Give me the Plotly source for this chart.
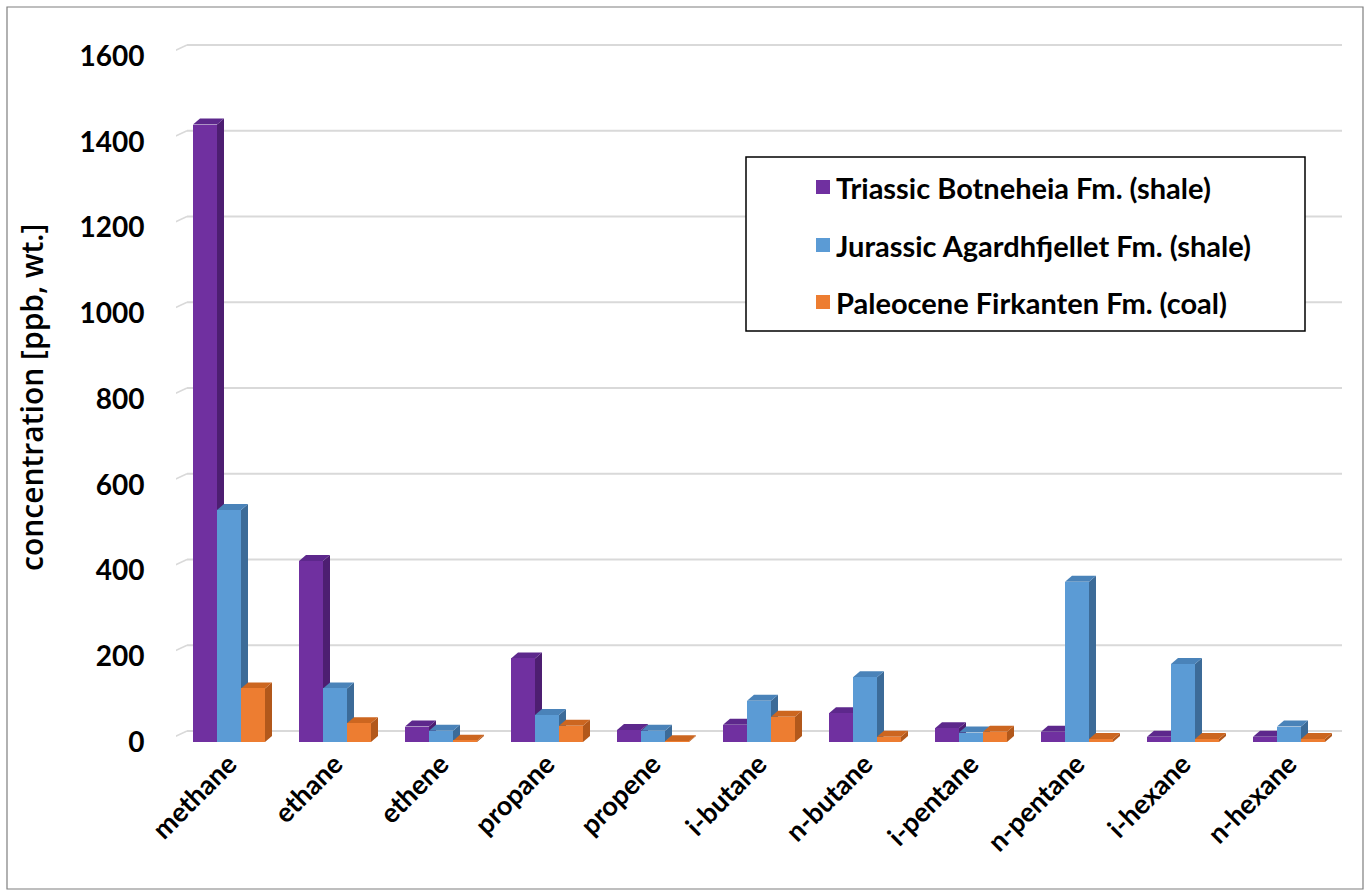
import plotly.graph_objects as go

# --- data -------------------------------------------------------------------
compounds = ["methane", "ethane", "ethene", "propane", "propene", "i-butane",
             "n-butane", "i-pentane", "n-pentane", "i-hexane", "n-hexane"]
triassic_botneheia = [1440, 422, 36, 195, 28, 40, 67, 32, 24, 12, 12]
jurassic_agardhfjellet = [541, 125, 26, 63, 26, 96, 151, 22, 374, 182, 36]
paleocene_firkanten = [125, 44, 3, 38, 2, 59, 12, 24, 7, 7, 7]

series_names = ["Triassic Botneheia Fm. (shale)",
                "Jurassic Agardhfjellet Fm. (shale)",
                "Paleocene Firkanten Fm. (coal)"]
y_ticks = [0, 200, 400, 600, 800, 1000, 1200, 1400, 1600]

# --- styling ----------------------------------------------------------------
front_colors = ["#7030A0", "#5B9BD5", "#ED7D31"]
side_colors = ["#4D1E71", "#3C6B98", "#B2581B"]
top_colors = ["#5D288C", "#4A83B9", "#CC6620"]

W, H = 1370, 896
M_L, M_R, M_T, M_B = 176, 28, 40, 154
plot_w = W - M_L - M_R
plot_h = H - M_T - M_B
n = len(compounds)
x_range = [-0.5, n - 0.5]
px_per_x = plot_w / (x_range[1] - x_range[0])
px_per_y = 0.42875
y_range = [0, plot_h / px_per_y]


def dx(px):
    return px / px_per_x


def dy(px):
    return px / px_per_y


bar_w = dx(24)
offsets = [-bar_w, 0.0, bar_w]
depth_x, depth_y = dx(7), dy(6)
wall_x, wall_y = dx(11), dy(11)

series = [triassic_botneheia, jurassic_agardhfjellet, paleocene_firkanten]

fig = go.Figure()
shapes = []

# back wall gridlines with the short side-wall connectors
grid_col = "#D9D9D9"
for v in y_ticks:
    shapes.append(dict(type="line", xref="x", yref="y", layer="below",
                       x0=x_range[0] + wall_x, x1=x_range[1] + dx(10),
                       y0=v + wall_y, y1=v + wall_y,
                       line=dict(color=grid_col, width=2)))
    shapes.append(dict(type="line", xref="x", yref="y", layer="below",
                       x0=x_range[0] - dx(6), x1=x_range[0] + wall_x,
                       y0=v + dy(3), y1=v + wall_y,
                       line=dict(color=grid_col, width=1.5)))

# floor front edge
shapes.append(dict(type="line", xref="x", yref="y", layer="below",
                   x0=x_range[0], x1=x_range[1] - dx(10), y0=-dy(2), y1=-dy(2),
                   line=dict(color=grid_col, width=3)))

# depth faces (side and top) of every bar, kept beneath the bar fronts
for i in range(n):
    for k, vals in enumerate(series):
        v = vals[i]
        xl = i + offsets[k] - bar_w / 2
        xr = xl + bar_w
        side = (f"M {xr},0 L {xr + depth_x},{depth_y} L {xr + depth_x},{v + depth_y} "
                f"L {xr},{v} Z")
        top = (f"M {xl},{v} L {xr},{v} L {xr + depth_x},{v + depth_y} "
               f"L {xl + depth_x},{v + depth_y} Z")
        shapes.append(dict(type="path", xref="x", yref="y", layer="below", path=side,
                           fillcolor=side_colors[k], line=dict(width=0)))
        shapes.append(dict(type="path", xref="x", yref="y", layer="below", path=top,
                           fillcolor=top_colors[k], line=dict(width=0)))

# bar fronts
for k, vals in enumerate(series):
    fig.add_trace(go.Bar(
        x=[i + offsets[k] for i in range(n)], y=vals, width=bar_w,
        name=series_names[k], marker=dict(color=front_colors[k], line=dict(width=0)),
        showlegend=False))


def px_to_paper_x(px):
    return (px - M_L) / plot_w


def py_to_paper_y(py):
    return (H - M_B - py) / plot_h


# outer frame
shapes.append(dict(type="rect", xref="paper", yref="paper",
                   x0=px_to_paper_x(7), x1=px_to_paper_x(1363),
                   y0=py_to_paper_y(889), y1=py_to_paper_y(7),
                   line=dict(color="#7F7F7F", width=1.2)))

# legend box
shapes.append(dict(type="rect", xref="paper", yref="paper",
                   x0=px_to_paper_x(746), x1=px_to_paper_x(1305),
                   y0=py_to_paper_y(331), y1=py_to_paper_y(157),
                   fillcolor="white", line=dict(color="black", width=1.5)))
annotations = []
legend_rows = [187, 245, 302]
for k, name in enumerate(series_names):
    cy = legend_rows[k]
    shapes.append(dict(type="rect", xref="paper", yref="paper",
                       x0=px_to_paper_x(816), x1=px_to_paper_x(830),
                       y0=py_to_paper_y(cy + 7), y1=py_to_paper_y(cy - 7),
                       fillcolor=front_colors[k], line=dict(width=0)))
    annotations.append(dict(xref="paper", yref="paper",
                            x=px_to_paper_x(834), y=py_to_paper_y(cy),
                            xanchor="left", yanchor="middle", showarrow=False,
                            text=f"<b>{name}</b>",
                            font=dict(family="Lato", size=29, color="black")))

# y axis title
annotations.append(dict(xref="paper", yref="paper",
                        x=px_to_paper_x(31), y=py_to_paper_y(398),
                        xanchor="center", yanchor="middle", showarrow=False,
                        textangle=-90, text="concentration [ppb, wt.]",
                        font=dict(family="Open Sans", size=30, weight=600,
                                  color="black")))

fig.update_layout(
    width=W, height=H, autosize=False,
    margin=dict(l=M_L, r=M_R, t=M_T, b=M_B, pad=0),
    paper_bgcolor="white", plot_bgcolor="white",
    barmode="overlay", bargap=0,
    shapes=shapes, annotations=annotations,
    xaxis=dict(range=x_range, tickmode="array", tickvals=list(range(n)),
               ticktext=[f"<b>{c}</b>" for c in compounds], tickangle=-45,
               showgrid=False, zeroline=False, showline=False,
               ticks="", ticklen=0,
               tickfont=dict(family="Lato", size=27, color="black")),
    yaxis=dict(range=y_range, tickmode="array", tickvals=y_ticks,
               ticktext=[f"<b>{t}</b>" for t in y_ticks],
               showgrid=False, zeroline=False, showline=False,
               ticks="outside", ticklen=25, tickcolor="rgba(0,0,0,0)",
               tickfont=dict(family="Lato", size=28, color="black")),
)

fig.write_html("out.html")
